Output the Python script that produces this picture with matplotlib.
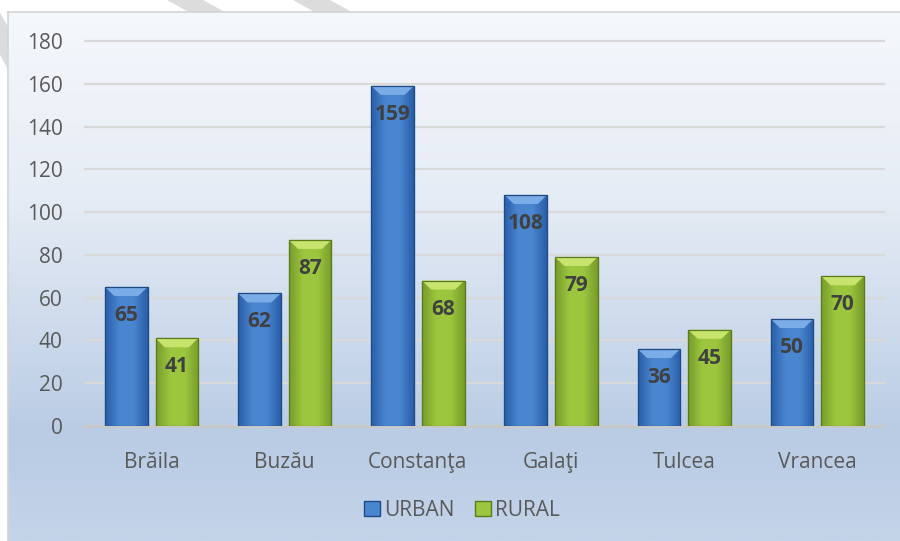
import numpy as np
import matplotlib
matplotlib.use("Agg")
import matplotlib.pyplot as plt
from matplotlib.patches import Polygon, Rectangle
from matplotlib.colors import LinearSegmentedColormap

# Dados
judete = ["Brăila", "Buzău", "Constanţa", "Galaţi", "Tulcea", "Vrancea"]
urban = [65, 62, 159, 108, 36, 50]
rural = [41, 87, 68, 79, 45, 70]
serii = ["URBAN", "RURAL"]
y_ticks = [0, 20, 40, 60, 80, 100, 120, 140, 160, 180]

plt.rcParams['font.family'] = ['Open Sans', 'DejaVu Sans']
W, H = 900, 541
fig = plt.figure(figsize=(W / 100, H / 100), dpi=100)
fig.patch.set_facecolor("white")

def px(x, y):
    return (x / W, 1 - y / H)

# benzi gri decorative (sus)
for pts in [[(167, 0), (203, 0), (257, 30), (221, 30)],
            [(293, 0), (330, 0), (384, 30), (347, 30)],
            [(-10, -5), (-10, 36), (20, 92), (20, 48)]]:
    fig.patches.append(Polygon([px(*p) for p in pts], closed=True,
                               transform=fig.transFigure, facecolor="#dcdcdc",
                               edgecolor="none", zorder=-5))

# fundal cu gradient
bg = fig.add_axes([8 / W, 0, 1 - 8 / W, 1 - 12 / H], zorder=-2)
grad_cmap = LinearSegmentedColormap.from_list(
    "bg", [(0, "#f5f8fc"), (0.35, "#e6ecf5"), (0.8, "#b9cce4"), (1, "#c4d4e9")])
bg.imshow(np.linspace(0, 1, 256).reshape(-1, 1), aspect="auto", cmap=grad_cmap,
          extent=(0, 1, 0, 1), origin="upper")
bg.set_xlim(0, 1)
bg.set_ylim(0, 1)
bg.set_xticks([])
bg.set_yticks([])
for s in ["right", "bottom"]:
    bg.spines[s].set_visible(False)
for s in ["top", "left"]:
    bg.spines[s].set_color("#d4d4d4")
    bg.spines[s].set_linewidth(1.2)

ax = fig.add_axes([85 / W, 1 - 426 / H, (884 - 85) / W, (426 - 41) / H])
ax.patch.set_alpha(0)

x = np.arange(len(judete))
w = 0.32
off = 0.19

stil = {
    "URBAN": dict(mid="#4a86d0", side="#2a5ea8", edge="#1d4a85", bevel="#7aace8"),
    "RURAL": dict(mid="#9cc63e", side="#789c2a", edge="#5b7a1c", bevel="#c8e46e"),
}

bevel_h = 180 / 385 * 9

for nume, vals, dx in [("URBAN", urban, -off), ("RURAL", rural, off)]:
    st = stil[nume]
    bars = ax.bar(x + dx, vals, w, color=st["mid"], edgecolor=st["edge"],
                  linewidth=0.8, zorder=3, label=nume)
    cm = LinearSegmentedColormap.from_list(nume, [st["side"], st["mid"], st["mid"], st["side"]])
    for b, v in zip(bars, vals):
        x0, bw, h = b.get_x(), b.get_width(), b.get_height()
        im = ax.imshow(np.linspace(0, 1, 64).reshape(1, -1), aspect="auto", cmap=cm,
                       extent=(x0, x0 + bw, 0, h), zorder=3.1)
        im.set_clip_path(b)
        bw_in = bw * 0.22
        ax.add_patch(Polygon([(x0, h), (x0 + bw, h), (x0 + bw - bw_in, h - bevel_h),
                              (x0 + bw_in, h - bevel_h)], closed=True,
                             facecolor=st["bevel"], edgecolor="none", zorder=3.2))
        ax.add_patch(Rectangle((x0, 0), bw, h, facecolor="none",
                               edgecolor=st["edge"], linewidth=0.9, zorder=3.3))
        ax.annotate(str(v), (x0 + bw / 2, h), xytext=(0, -20.5), textcoords="offset points",
                    ha="center", va="center", fontsize=15, fontweight="bold",
                    color="#404040", zorder=4)

ax.set_ylim(0, 180)
ax.set_xlim(-0.5, len(judete) - 0.5)
ax.set_yticks(y_ticks)
ax.set_xticks(x)
ax.set_xticklabels(judete)
ax.yaxis.grid(True, color="#d9d9d9", linewidth=1.6, zorder=0)
for gl in ax.get_ygridlines():
    gl.set_clip_on(False)
ax.set_axisbelow(True)
for s in ["top", "right", "left"]:
    ax.spines[s].set_visible(False)
ax.spines["bottom"].set_color("#c8c8c8")
ax.spines["bottom"].set_linewidth(2)
ax.tick_params(axis="both", length=0, labelsize=15, labelcolor="#595959")
ax.tick_params(axis="y", pad=16)
ax.tick_params(axis="x", pad=19)

handles = [Rectangle((0, 0), 1, 1, facecolor=stil[s]["mid"], edgecolor=stil[s]["edge"])
           for s in serii]
fig.legend(handles, serii, loc="center", bbox_to_anchor=(462 / W, 1 - 510 / H), ncol=2,
           frameon=False, fontsize=15, labelcolor="#595959", handlelength=0.75,
           handleheight=0.75, handletextpad=0.2, columnspacing=1.0)

plt.savefig("out.png", dpi=100)
